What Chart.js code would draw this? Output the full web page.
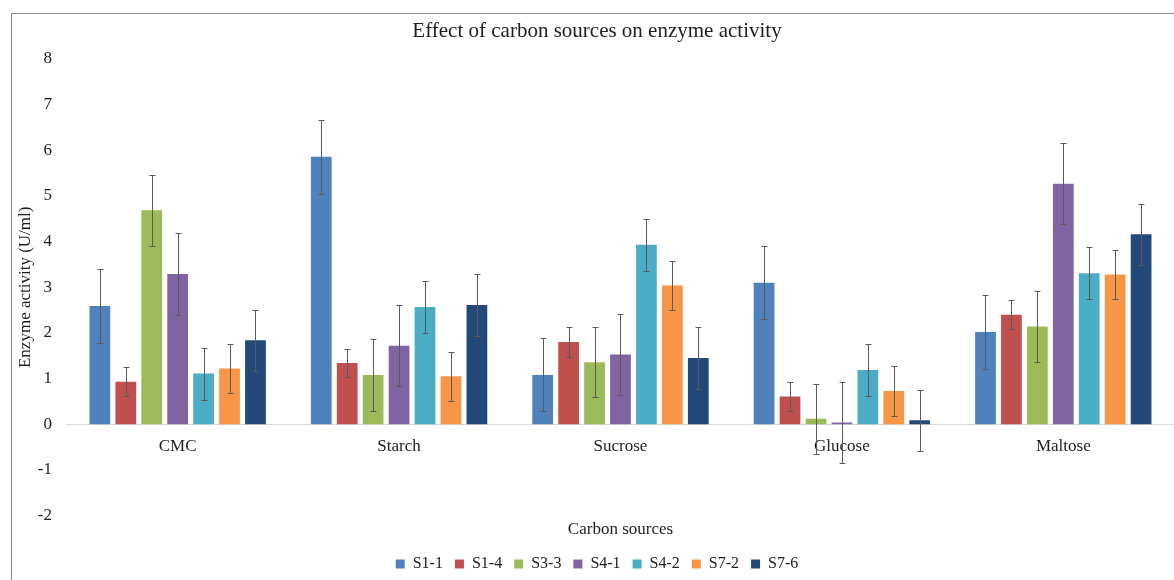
<!DOCTYPE html>
<html>
<head>
<meta charset="utf-8">
<script src="https://cdn.jsdelivr.net/npm/chart.js@4/dist/chart.umd.min.js"></script>
<style>
  html, body { margin: 0; padding: 0; background: #fff; }
  #wrap { position: relative; width: 1174px; height: 580px; overflow: hidden; }
  #frame { position: absolute; left: 11px; top: 13px; width: 1170px; height: 580px;
           border-top: 1px solid #8a8a8a; border-left: 1px solid #8a8a8a; box-sizing: border-box; }
  canvas { position: absolute; left: 0; top: 0; }
</style>
</head>
<body>
<div id="wrap">
  <div id="frame"></div>
  <canvas id="c" width="1174" height="580"></canvas>
</div>
<script>
// ---- data ----
const categories = ['CMC', 'Starch', 'Sucrose', 'Glucose', 'Maltose'];
const seriesNames = ['S1-1', 'S1-4', 'S3-3', 'S4-1', 'S4-2', 'S7-2', 'S7-6'];

const s1_1 = [2.59, 5.86, 1.08, 3.10, 2.02];
const s1_4 = [0.93, 1.34, 1.80, 0.61, 2.40];
const s3_3 = [4.69, 1.08, 1.36, 0.12, 2.14];
const s4_1 = [3.29, 1.72, 1.53, 0.04, 5.27];
const s4_2 = [1.11, 2.57, 3.93, 1.19, 3.31];
const s7_2 = [1.22, 1.05, 3.04, 0.73, 3.28];
const s7_6 = [1.84, 2.61, 1.45, 0.09, 4.16];

const e1_1 = [0.80, 0.81, 0.80, 0.80, 0.81];
const e1_4 = [0.32, 0.31, 0.33, 0.32, 0.32];
const e3_3 = [0.78, 0.78, 0.77, 0.77, 0.77];
const e4_1 = [0.89, 0.89, 0.89, 0.89, 0.89];
const e4_2 = [0.57, 0.56, 0.57, 0.56, 0.57];
const e7_2 = [0.54, 0.54, 0.54, 0.54, 0.54];
const e7_6 = [0.67, 0.68, 0.67, 0.67, 0.67];

const yTicks = [-2, -1, 0, 1, 2, 3, 4, 5, 6, 7, 8];

const values = [s1_1, s1_4, s3_3, s4_1, s4_2, s7_2, s7_6];
const errors = [e1_1, e1_4, e3_3, e4_1, e4_2, e7_2, e7_6];
const colors = ['#4F81BD', '#C0504D', '#9BBB59', '#8064A2', '#4BACC6', '#F79646', '#23497A'];

const FONT = "'Liberation Serif', 'Times New Roman', serif";
const TEXT = '#1e1e1e';

const errorBars = {
  id: 'errorBars',
  afterDatasetsDraw(chart) {
    const ctx = chart.ctx;
    const y = chart.scales.y;
    ctx.save();
    ctx.strokeStyle = '#5a5a5a';
    ctx.lineWidth = 1;
    chart.data.datasets.forEach((ds, i) => {
      const meta = chart.getDatasetMeta(i);
      if (meta.hidden) return;
      meta.data.forEach((bar, j) => {
        const v = ds.data[j], e = ds.errors[j];
        const x = Math.round(bar.x) + 0.5;
        const yt = Math.round(y.getPixelForValue(v + e)) + 0.5;
        const yb = Math.round(y.getPixelForValue(v - e)) + 0.5;
        ctx.beginPath();
        ctx.moveTo(x, yt); ctx.lineTo(x, yb);
        ctx.moveTo(x - 3, yt); ctx.lineTo(x + 3, yt);
        ctx.moveTo(x - 3, yb); ctx.lineTo(x + 3, yb);
        ctx.stroke();
      });
    });
    ctx.restore();
  }
};

new Chart(document.getElementById('c'), {
  type: 'bar',
  data: {
    labels: categories,
    datasets: seriesNames.map((n, i) => ({
      label: n,
      data: values[i],
      errors: errors[i],
      backgroundColor: colors[i],
      borderWidth: 0,
      categoryPercentage: 0.82,
      barPercentage: 0.8
    }))
  },
  options: {
    responsive: false,
    animation: false,
    layout: { padding: { top: 8, left: 20, right: 0, bottom: -2 } },
    plugins: {
      title: {
        display: true,
        text: 'Effect of carbon sources on enzyme activity',
        color: TEXT,
        font: { family: FONT, size: 21, weight: 'normal' },
        padding: { top: 10.5, bottom: 15.3 }
      },
      legend: {
        position: 'bottom',
        labels: {
          color: TEXT,
          font: { family: FONT, size: 16 },
          boxWidth: 9, boxHeight: 9, padding: 12
        }
      },
      tooltip: { enabled: false }
    },
    scales: {
      y: {
        min: -2, max: 8,
        afterBuildTicks: (s) => { s.ticks = yTicks.map(v => ({ value: v })); },
        grid: { display: false, drawTicks: false },
        border: { display: false },
        ticks: { color: TEXT, font: { family: FONT, size: 17 }, padding: 15 },
        title: {
          display: true, text: 'Enzyme activity (U/ml)', color: TEXT,
          font: { family: FONT, size: 17 }, padding: { top: -4.2, bottom: -13.4 }
        }
      },
      x: {
        position: { y: 0 },
        grid: { display: false, drawTicks: false },
        border: { display: true, color: '#d9d9d9', width: 1 },
        ticks: { color: TEXT, font: { family: FONT, size: 17 }, padding: 12.5, maxRotation: 0 }
      },
      x2: {
        type: 'category',
        position: 'bottom',
        labels: categories,
        grid: { display: false, drawTicks: false },
        border: { display: false },
        ticks: { display: false },
        title: {
          display: true, text: 'Carbon sources', color: TEXT,
          font: { family: FONT, size: 17 }, padding: { top: 4, bottom: 4 }
        }
      }
    }
  },
  plugins: [errorBars]
});
</script>
</body>
</html>
